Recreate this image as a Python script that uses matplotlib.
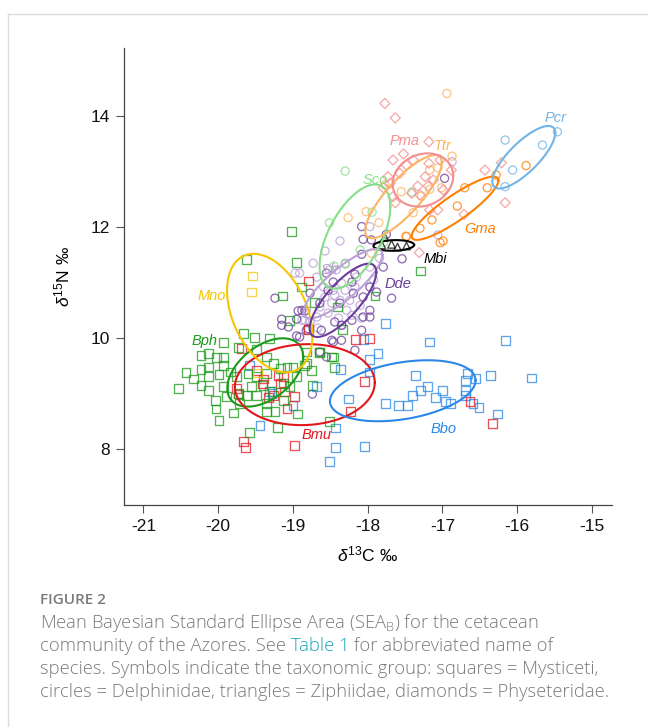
import numpy as np
import matplotlib
matplotlib.use("Agg")
import matplotlib.pyplot as plt
from matplotlib.lines import Line2D

plt.rcParams['font.family'] = ['Liberation Sans', 'DejaVu Sans']
plt.rcParams['mathtext.fontset'] = 'custom'
plt.rcParams['mathtext.rm'] = 'Liberation Sans'
plt.rcParams['mathtext.it'] = 'Liberation Sans:italic'

# ---------------- data (δ13C, δ15N) ----------------
bph_x = [-19.62,-18.95,-19.14,-18.88,-19.05,-19.66,-19.51,-19.31,-19.93,-19.73,-19.49,-20.23,-20.13,-20.02,-19.93,
         -20.23,-20.13,-20.13,-20.43,-20.33,-20.23,-20.13,-20.53,-19.99,-19.93,-20.04,-20.03,-19.99,-19.79,-19.58,
         -19.21,-18.94,-18.51,-18.74,-18.44,-18.46,-18.64,-18.82,-18.82,-18.75,-19.35,-19.26,-19.17,-19.08,-19.00,
         -19.35,-19.49,-19.60,-19.55,-19.62,-19.73,-19.71,-19.49,-19.40,-19.28,-19.35,-19.24,-19.35,-19.13,-19.04,
         -18.95,-19.13,-19.89,-19.93,-19.84,-19.75,-18.84,-18.71,-18.40,-18.34,-17.90,-18.64,-18.48,-17.29,-19.02]
bph_y = [11.42,11.36,10.76,10.92,10.31,10.08,10.01,9.99,9.92,9.83,9.80,9.68,9.72,9.65,9.65,
         9.44,9.48,9.30,9.38,9.26,9.14,9.06,9.09,9.35,9.51,8.87,8.72,8.52,8.65,8.30,
         8.39,8.63,8.50,9.15,9.47,9.66,9.74,9.75,9.54,9.42,9.66,9.54,9.45,9.48,9.48,
         9.36,9.30,9.36,9.12,8.97,9.00,8.82,8.97,9.15,9.03,8.82,8.67,8.67,8.88,9.12,
         9.30,9.18,8.94,9.12,9.39,9.30,9.51,10.64,10.56,10.16,10.76,9.75,9.66,11.21,11.92]

bmu_x = [-18.79,-18.79,-18.16,-17.98,-18.04,-18.23,-16.63,-16.33,-19.66,-19.63,-18.98,-19.08,-18.98,-19.17,-19.13,
         -19.26,-19.69,-19.75,-19.73,-19.39,-19.33,-19.11,-19.20,-19.41,-19.49]
bmu_y = [11.03,10.16,9.98,9.99,9.21,8.68,8.86,8.46,8.14,8.03,8.06,8.73,8.94,9.18,9.30,
         8.97,9.81,9.09,8.99,9.26,8.93,9.03,9.33,9.17,9.41]

bbo_x = [-17.76,-17.17,-16.16,-17.86,-17.98,-18.06,-18.36,-17.98,-17.36,-17.20,-17.29,-17.00,-17.40,-17.09,-16.96,
         -16.89,-17.76,-17.59,-17.47,-18.26,-16.66,-16.56,-16.36,-15.81,-16.69,-16.69,-16.69,-16.59,-16.51,-16.26,
         -18.43,-18.43,-18.04,-18.51,-19.44,-18.68,-19.00,-19.28,-19.58,-19.31]
bbo_y = [10.26,9.93,9.95,9.72,9.62,9.98,9.44,9.39,9.33,9.12,9.05,9.06,8.96,8.93,8.85,
         8.82,8.82,8.79,8.79,8.90,9.36,9.27,9.33,9.28,9.23,9.05,8.96,8.82,8.75,8.63,
         8.38,8.03,8.05,7.78,8.43,9.12,8.79,9.00,9.50,9.03]

mno_x = [-19.54,-19.55,-19.47]
mno_y = [11.12,10.83,9.37]

mbi_x = [-17.81,-17.77,-17.60,-17.48,-17.68]
mbi_y = [11.68,11.82,11.64,11.66,11.69]

sfr_x = [-18.97,-18.42,-18.35,-18.46,-18.57,-18.48,-18.37,-18.24,-18.28,-18.39,-18.53,-18.68,-18.77,-18.88,-18.82,
         -18.64,-18.59,-18.17,-18.10,-18.15,-17.97,-18.30,-18.51,-18.68,-18.37,-18.57,-18.73,-18.91,-16.87,-17.06,
         -17.97,-18.84,-18.44,-18.30,-18.21,-18.08,-18.67,-18.34,-17.84,-17.92]
sfr_y = [11.17,11.23,10.99,10.86,10.74,10.63,10.68,10.68,10.50,10.36,10.45,10.38,10.29,10.32,10.50,
         10.56,10.92,10.92,10.59,11.10,11.28,11.35,11.23,11.10,11.75,11.57,11.35,11.17,13.18,11.86,
         12.01,10.32,10.77,10.86,10.41,10.36,10.18,10.23,11.44,11.05]

dde_x = [-19.24,-18.93,-18.84,-18.95,-19.15,-18.91,-18.80,-18.62,-18.44,-18.21,-18.37,-18.19,-18.06,-17.97,-18.08,
         -18.17,-18.46,-18.77,-18.53,-17.79,-18.21,-18.64,-18.55,-17.97,-18.17,-19.06,-18.88,-18.95,-18.64,-18.55,
         -18.74,-18.82,-18.46,-18.08,-18.06,-18.08,-17.95,-17.75,-17.54,-16.97,-17.68,-17.97,-18.06,-18.35,-18.35,
         -18.48,-17.88,-19.15]
dde_y = [10.72,10.49,10.49,10.34,10.34,10.02,10.17,10.14,10.29,10.32,10.63,10.81,10.74,10.38,10.14,
         11.15,11.01,10.81,10.86,11.28,11.01,10.63,11.17,10.92,9.78,10.20,10.50,10.04,9.75,9.66,
         8.99,10.14,9.93,12.01,11.78,11.51,11.77,11.87,11.43,12.88,10.72,10.50,10.38,10.23,9.96,
         9.96,10.83,10.23]

sco_x = [-18.30,-18.51,-17.41,-17.79,-18.30,-18.45,-18.10,-17.94]
sco_y = [13.01,12.08,12.63,11.72,11.33,11.30,11.59,12.27]

ttr_x = [-16.94,-16.87,-17.06,-17.28,-17.39,-17.49,-17.85,-18.02,-18.26,-17.77,-17.55,-17.17,-17.01,-17.17,-17.95]
ttr_y = [14.41,13.28,13.07,12.56,12.26,11.84,12.08,12.28,12.17,12.76,12.64,12.68,12.71,13.03,11.53]

gma_x = [-16.70,-16.40,-16.80,-17.03,-16.99,-17.30,-17.48,-15.88,-16.28,-17.14]
gma_y = [12.71,12.71,12.38,11.72,11.75,11.98,11.83,13.11,12.94,12.13]

pcr_x = [-16.16,-15.66,-15.46,-16.06,-16.16]
pcr_y = [13.57,13.48,13.72,13.03,12.73]

pma_x = [-17.77,-17.63,-17.18,-17.66,-17.57,-17.48,-17.39,-17.18,-17.03,-16.88,-17.23,-17.12,-17.33,-17.19,-17.70,
         -17.66,-17.63,-17.41,-17.17,-17.06,-16.71,-16.43,-16.21,-16.16,-17.31,-17.73,-17.79,-17.52,-16.99,-17.30]
pma_y = [14.23,13.97,13.54,13.21,12.97,13.12,13.21,13.15,13.21,13.03,12.91,12.85,12.74,12.74,12.79,
         12.55,12.44,12.61,12.31,12.31,12.23,13.03,13.16,12.44,11.54,12.91,12.71,13.32,12.67,12.58]

# Standard ellipse parameters: centre x, centre y, sd x, sd y, correlation
species   = ['Bph', 'Bmu', 'Bbo', 'Mno', 'Mbi', 'Sfr', 'Dde', 'Sco', 'Ttr', 'Gma', 'Pcr', 'Pma']
ell_cx    = [-19.37, -18.84, -17.53, -19.31, -17.65, -18.33, -18.33, -18.17, -17.52, -16.83, -15.91, -17.26]
ell_cy    = [9.38, 9.16, 9.05, 10.45, 11.67, 10.98, 10.68, 11.83, 12.55, 12.34, 13.26, 12.85]
ell_sx    = [0.508, 0.936, 0.974, 0.571, 0.272, 0.528, 0.446, 0.473, 0.513, 0.58, 0.421, 0.405]
ell_sy    = [0.616, 0.730, 0.550, 1.069, 0.096, 0.625, 0.661, 0.94, 0.751, 0.57, 0.564, 0.48]
ell_rho   = [0.46, 0.05, 0.34, -0.38, 0.1, 0.83, 0.77, 0.57, 0.82, 0.88, 0.78, 0.15]
label_x   = [-20.18, -18.68, -16.99, -20.08, -17.10, -18.50, -17.60, -17.90, -17.00, -16.50, -15.49, -17.50]
label_y   = [9.95, 8.25, 8.36, 10.76, 11.42, 11.23, 10.97, 12.85, 13.46, 11.96, 13.96, 13.55]

xticks = [-21, -20, -19, -18, -17, -16, -15]
yticks = [8, 10, 12, 14]

# ---------------- styles ----------------
colors = {'Bph': '#199a19', 'Bmu': '#e3161c', 'Bbo': '#2b87e6', 'Mno': '#f7c600', 'Mbi': '#000000',
          'Sfr': '#b9a0d6', 'Dde': '#6a3d9a', 'Sco': '#86df86', 'Ttr': '#fdb462', 'Gma': '#ff7f00',
          'Pcr': '#72b4e6', 'Pma': '#f48f8f'}
markers = {'Bph': 's', 'Bmu': 's', 'Bbo': 's', 'Mno': 's', 'Mbi': '^', 'Sfr': 'o', 'Dde': 'o', 'Sco': 'o',
           'Ttr': 'o', 'Gma': 'o', 'Pcr': 'o', 'Pma': 'D'}
points = {'Bph': (bph_x, bph_y), 'Bmu': (bmu_x, bmu_y), 'Bbo': (bbo_x, bbo_y), 'Mno': (mno_x, mno_y),
          'Mbi': (mbi_x, mbi_y), 'Sfr': (sfr_x, sfr_y), 'Dde': (dde_x, dde_y), 'Sco': (sco_x, sco_y),
          'Ttr': (ttr_x, ttr_y), 'Gma': (gma_x, gma_y), 'Pcr': (pcr_x, pcr_y), 'Pma': (pma_x, pma_y)}
draw_order = ['Sfr', 'Dde', 'Sco', 'Ttr', 'Gma', 'Pcr', 'Pma', 'Bbo', 'Bmu', 'Bph', 'Mno', 'Mbi']

fig = plt.figure(figsize=(6.48, 7.27), dpi=100)
ax = fig.add_axes([124/648, 1-505/727, (612-124)/648, (505-48)/727])

for sp in draw_order:
    px, py = points[sp]
    m = markers[sp]
    size = 40 if m == 's' else (34 if m == 'o' else (26 if m == 'D' else 30))
    ax.scatter(px, py, s=size, marker=m, facecolors='none', edgecolors=colors[sp],
               linewidths=0.95, alpha=0.75, zorder=2)

t = np.linspace(0, 2*np.pi, 300)
for i, sp in enumerate(species):
    ex = ell_cx[i] + ell_sx[i]*np.cos(t)
    ey = ell_cy[i] + ell_sy[i]*(ell_rho[i]*np.cos(t) + np.sqrt(1-ell_rho[i]**2)*np.sin(t))
    ax.plot(ex, ey, color=colors[sp], lw=1.5, zorder=3)
    ax.text(label_x[i], label_y[i], sp, color=colors[sp], fontsize=10.5, style='italic',
            ha='center', va='center', zorder=4)

ax.set_xlim(-21.26, -14.73)
ax.set_ylim(6.99, 15.23)
ax.set_xticks(xticks)
ax.set_yticks(yticks)
ax.set_xticklabels([str(v) for v in xticks])
ax.set_yticklabels([str(v) for v in yticks])
for s in ['top', 'right']:
    ax.spines[s].set_visible(False)
for s in ['left', 'bottom']:
    ax.spines[s].set_color('#444444')
    ax.spines[s].set_linewidth(0.9)
ax.tick_params(direction='out', length=6, width=0.8, color='#555555', labelsize=12.5, pad=4,
               labelcolor='#111111')
ax.set_xlabel(r'$\it{\delta}^{13}$C ‰', fontsize=12.5, labelpad=8)
ax.set_ylabel(r'$\it{\delta}^{15}$N ‰', fontsize=12.5, labelpad=13)

# page frame lines
fig.add_artist(Line2D([8/648, 1], [1-14/727, 1-14/727], transform=fig.transFigure, color='#dcdcdc', lw=1))
fig.add_artist(Line2D([8/648, 8/648], [0, 1-14/727], transform=fig.transFigure, color='#dcdcdc', lw=1))

# caption
cap_font = ['Open Sans', 'DejaVu Sans']
gray = '#7a7a7a'
cs = 13.2
fig.text(40/648, 1-600/727, 'FIGURE 2', fontsize=11, color=gray, family=cap_font,
         fontweight='semibold', va='center')
lines = ['Mean Bayesian Standard Ellipse Area (SEA$_\\mathregular{B}$) for the cetacean',
         None,
         'species. Symbols indicate the taxonomic group: squares = Mysticeti,',
         'circles = Delphinidae, triangles = Ziphiidae, diamonds = Physeteridae.']
ys = [623, 646, 669, 692]
for ln, yy in zip(lines, ys):
    if ln is None:
        a = fig.text(40/648, 1-yy/727, 'community of the Azores. See ', fontsize=cs, color=gray,
                     family=cap_font, fontweight='light', va='center')
        b = fig.text(0, 0, 'Table 1', fontsize=cs, color='#1aa5b8', family=cap_font, fontweight='light')
        c = fig.text(0, 0, ' for abbreviated name of', fontsize=cs, color=gray, family=cap_font,
                     fontweight='light')
        fig.canvas.draw()
        r = fig.canvas.get_renderer()
        bb = a.get_window_extent(r)
        fw, fh = fig.bbox.width, fig.bbox.height
        b.set_position((bb.x1/fw, bb.y0/fh))
        b.set_va('bottom')
        bb2 = b.get_window_extent(r)
        c.set_position((bb2.x1/fw, bb.y0/fh))
        c.set_va('bottom')
    else:
        fig.text(40/648, 1-yy/727, ln, fontsize=cs, color=gray, family=cap_font,
                 fontweight='light', va='center')

fig.savefig('out.png', dpi=100)
